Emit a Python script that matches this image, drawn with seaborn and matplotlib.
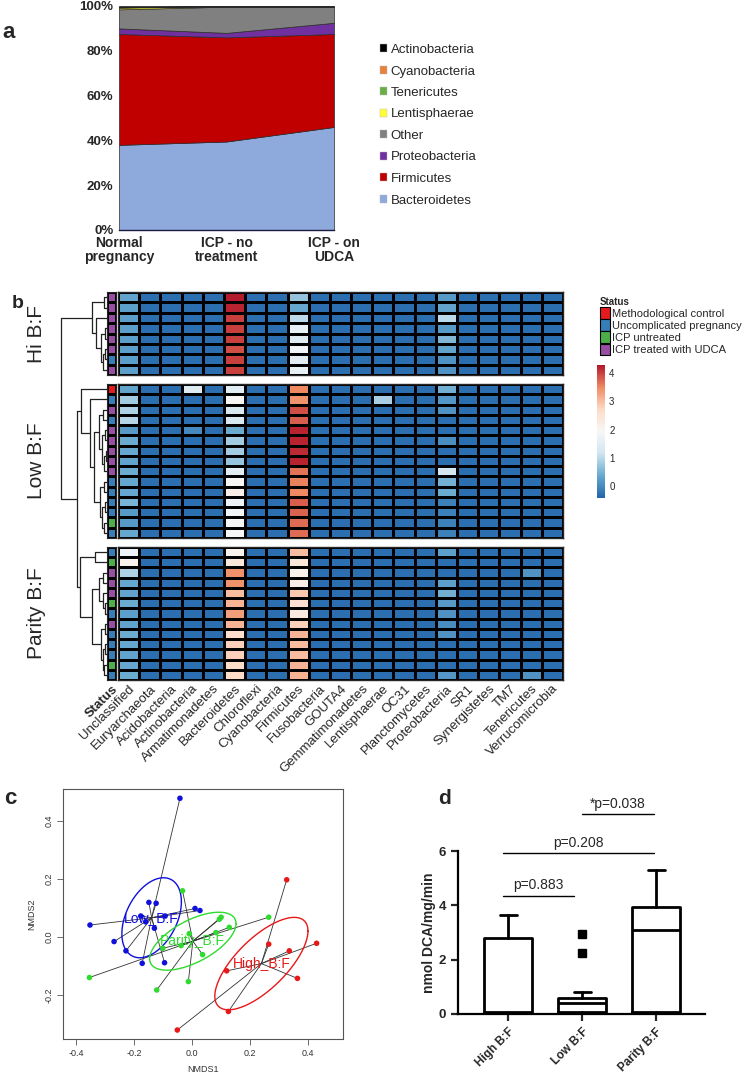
import numpy as np
import pandas as pd
import matplotlib
matplotlib.use("Agg")
import matplotlib.pyplot as plt
import seaborn as sns
from matplotlib.colors import ListedColormap, LinearSegmentedColormap
from matplotlib.patches import Patch

# ---------------- panel a: relative abundance (%)
groups_a = ["Normal\npregnancy", "ICP - no\ntreatment", "ICP - on\nUDCA"]
bacteroidetes_a = [38.0, 39.5, 46.0]
firmicutes_a = [49.5, 46.5, 41.5]
proteobacteria_a = [2.5, 2.0, 5.0]
other_a = [8.5, 11.7, 7.0]
lentisphaerae_a = [0.8, 0.1, 0.1]
tenericutes_a = [0.1, 0.05, 0.1]
cyanobacteria_a = [0.1, 0.05, 0.05]
actinobacteria_a = [0.5, 0.1, 0.25]
names_a = ["Bacteroidetes", "Firmicutes", "Proteobacteria", "Other",
           "Lentisphaerae", "Tenericutes", "Cyanobacteria", "Actinobacteria"]
colors_a = ["#8EA9DB", "#C00000", "#7030A0", "#808080",
            "#FFFF33", "#6BAE45", "#E8803F", "#000000"]

# ---------------- panel b: heatmap
phyla_b = ["Unclassified", "Euryarchaeota", "Acidobacteria", "Actinobacteria",
           "Armatimonadetes", "Bacteroidetes", "Chloroflexi", "Cyanobacteria",
           "Firmicutes", "Fusobacteria", "GOUTA4", "Gemmatimonadetes",
           "Lentisphaerae", "OC31", "Planctomycetes", "Proteobacteria", "SR1",
           "Synergistetes", "TM7", "Tenericutes", "Verrucomicrobia"]
base_value = -0.3  # colour of most cells = bottom of the scale

status_names = ["Methodological control", "Uncomplicated pregnancy",
                "ICP untreated", "ICP treated with UDCA"]
status_colors = ["#E41A1C", "#377EB8", "#4DAF4A", "#984EA3"]

hi_status = [3, 3, 3, 3, 3, 3, 1, 3]
low_status = [0, 1, 3, 1, 3, 3, 3, 3, 3, 1, 1, 1, 1, 2, 1]
parity_status = [1, 2, 3, 3, 3, 2, 1, 3, 1, 1, 1, 2, 1]

hi_values = {
    "Unclassified": [0.3, 0.25, 0.25, 0.25, 0.25, 0.25, 0.25, 0.25],
    "Bacteroidetes": [4.25, 4.2, 4.0, 4.0, 4.0, 3.9, 4.0, 4.0],
    "Firmicutes": [0.7, 0.35, 1.0, 1.6, 1.4, 1.8, 1.5, 1.6],
    "Proteobacteria": [0.2, 0.3, 1.0, 0.2, 0.55, 0.3, 0.1, 0.1],
}
low_values = {
    "Unclassified": [0.3, 0.8, 0.9, 0.95, 0.2, 0.4, 0.35, 0.3, 0.4, 0.35, 0.35, 0.5, 0.2, 0.2, 0.35],
    "Actinobacteria": [1.4, -0.3, -0.3, -0.3, 0.0, -0.3, -0.3, -0.3, -0.3, -0.3, -0.3, -0.3, -0.3, -0.3, -0.3],
    "Bacteroidetes": [1.5, 2.0, 1.3, 1.3, 0.4, 0.8, 0.8, 0.7, 1.5, 2.0, 2.2, 1.7, 1.8, 1.9, 1.9],
    "Firmicutes": [3.5, 3.4, 3.9, 3.8, 4.2, 4.2, 4.15, 4.2, 3.65, 3.55, 3.5, 3.8, 3.75, 3.7, 3.7],
    "Lentisphaerae": [-0.3, 0.85, -0.3, -0.3, -0.3, -0.3, -0.3, -0.3, -0.3, -0.3, -0.3, -0.3, -0.3, -0.3, -0.3],
    "Proteobacteria": [0.45, 0.15, 0.1, -0.3, -0.3, 0.05, -0.3, -0.3, 1.2, 0.45, 0.4, -0.1, -0.1, -0.1, -0.1],
}
parity_values = {
    "Unclassified": [1.7, 2.1, 0.9, 0.35, 0.3, 0.4, 0.25, 0.3, 0.4, 0.35, 0.3, 0.35, 0.4],
    "Bacteroidetes": [2.1, 2.4, 3.4, 3.4, 3.0, 3.1, 3.3, 3.1, 2.6, 2.8, 2.8, 2.7, 2.7],
    "Firmicutes": [3.0, 2.4, 2.1, 2.2, 2.9, 2.6, 2.3, 2.8, 3.1, 3.0, 3.0, 3.1, 3.1],
    "Proteobacteria": [0.25, -0.3, -0.3, 0.25, 0.45, 0.2, 0.1, 0.05, 0.1, -0.3, -0.3, -0.3, 0.15],
    "Tenericutes": [-0.3, -0.3, 0.1, -0.3, -0.3, -0.3, -0.3, -0.3, -0.3, -0.3, -0.3, -0.3, 0.1],
}

# dendrograms: (left, right, height), leaves are row indices inside the block
hi_tree = ((0, 1, 4), (2, ((3, 4, 3), ((5, 6, 3), 7, 5), 7), 12), 16)
low_tree = (0, (1, (((2, 3, 5), ((4, 5, 3), ((6, 7, 2), 8, 4), 6), 9),
                    ((9, 10, 4), ((11, 12, 3), (13, 14, 4), 6), 8), 14), 18), 27)
parity_tree = ((0, 1, 13), (((2, 3, 5), (4, (5, 6, 3), 5), 9),
                            ((7, 8, 3), ((9, 10, 3), (11, 12, 4), 5), 7), 16), 28)
low_parity_height = 31
root_height = 47

# ---------------- panel c: NMDS
low_x = [-0.042, -0.352, -0.269, -0.228, -0.172, -0.177, -0.149, -0.124, -0.160, -0.130, -0.095, -0.093, 0.010, 0.027]
low_y = [0.478, 0.041, -0.016, -0.048, -0.091, 0.072, 0.119, 0.116, 0.052, 0.030, -0.089, 0.072, 0.098, 0.091]
parity_x = [-0.354, -0.033, -0.010, -0.038, -0.013, -0.122, 0.036, 0.082, 0.094, 0.100, 0.128, 0.264, -0.101]
parity_y = [-0.140, 0.159, 0.011, -0.030, -0.154, -0.183, -0.061, 0.015, 0.061, 0.068, 0.033, 0.068, -0.039]
high_x = [0.326, -0.051, 0.125, 0.119, 0.264, 0.335, 0.363, 0.429]
high_y = [0.197, -0.321, -0.257, -0.117, -0.025, -0.048, -0.143, -0.022]
nmds_groups = ["Low_B:F", "Parity_B:F", "High_B:F"]
nmds_colors = ["#1010DD", "#2EDB2E", "#E81818"]

# ---------------- panel d: DCA production
d_groups = ["High B:F", "Low B:F", "Parity B:F"]
d_whislo = [0.02, 0.02, 0.03]
d_q1 = [0.05, 0.06, 0.06]
d_med = [0.06, 0.40, 3.08]
d_q3 = [2.78, 0.59, 3.93]
d_whishi = [3.66, 0.82, 5.31]
d_fliers = [[], [2.93, 2.23], []]
sig_x1 = [-0.07, -0.07, 1.0]
sig_x2 = [0.89, 1.97, 1.97]
sig_y = [4.36, 5.93, 7.36]
sig_text = ["p=0.883", "p=0.208", "*p=0.038"]

sns.set_style("white")
plt.rcParams["font.family"] = ["Liberation Sans", "DejaVu Sans"]

W, H = 745, 1077
fig = plt.figure(figsize=(W / 100, H / 100), dpi=100)


def px_axes(left, top, right, bottom):
    return fig.add_axes([left / W, 1 - bottom / H, (right - left) / W, (bottom - top) / H])


def panel_label(x, y, s, size):
    fig.text(x / W, 1 - y / H, s, fontsize=size, fontweight="bold", va="center", ha="left")


# ================= a
ax_a = px_axes(119, 6, 334, 230)
x_a = np.arange(len(groups_a))
series_a = [bacteroidetes_a, firmicutes_a, proteobacteria_a, other_a,
            lentisphaerae_a, tenericutes_a, cyanobacteria_a, actinobacteria_a]
ax_a.stackplot(x_a, *series_a, colors=colors_a, edgecolor="#2a2a2a", linewidth=0.5)
ax_a.set_xlim(0, 2)
ax_a.set_ylim(0, 100)
ax_a.set_yticks(range(0, 101, 20))
ax_a.set_yticklabels([f"{v}%" for v in range(0, 101, 20)], fontsize=9.5, fontweight="bold")
ax_a.set_xticks(x_a)
ax_a.set_xticklabels(groups_a, fontsize=10, fontweight="bold", linespacing=1.0)
ax_a.tick_params(length=0, pad=4)
for side in ["top", "right", "left"]:
    ax_a.spines[side].set_visible(False)
ax_a.spines["bottom"].set_color("#1a1a40")
ax_a.spines["bottom"].set_linewidth(1.0)
handles_a = [Patch(facecolor=c, edgecolor="#bbbbbb", linewidth=0.3, label=n)
             for n, c in zip(names_a, colors_a)][::-1]
ax_a.legend(handles=handles_a, loc="upper left", bbox_to_anchor=(380 / W, 1 - 44 / H),
            bbox_transform=fig.transFigure, frameon=False, fontsize=9.5,
            handlelength=0.55, handleheight=0.55, handletextpad=0.25,
            labelspacing=0.72, borderpad=0, borderaxespad=0)
panel_label(2, 33, "a", 16)

# ================= b
cmap_b = LinearSegmentedColormap.from_list(
    "rdbu7", ["#2166AC", "#67A9CF", "#D1E5F0", "#F7F7F7", "#FDDBC7", "#EF8A62", "#B2182B"])
vmin_b, vmax_b = -0.42, 4.28
blocks = [("Hi B:F", hi_values, hi_status, hi_tree, (292, 375)),
          ("Low B:F", low_values, low_status, low_tree, (384, 538)),
          ("Parity B:F", parity_values, parity_status, parity_tree, (547, 680))]
cax = px_axes(597, 365, 605, 498)

ax_den = px_axes(55, 292, 108, 680)
ax_den.set_ylim(680, 292)
ax_den.set_xlim(53, 0)
ax_den.axis("off")


def draw_link(a, b, h):
    (y1, h1), (y2, h2) = a, b
    ax_den.plot([h1, h, h, h2], [y1, y1, y2, y2], color="#222222", lw=0.9,
                solid_capstyle="butt")
    return (y1 + y2) / 2, h


def draw_tree(node, leaf_y):
    if isinstance(node, int):
        return leaf_y[node], 0.0
    left, right, h = node
    return draw_link(draw_tree(left, leaf_y), draw_tree(right, leaf_y), h)


tops = []
cbar = None
for i, (name, values, status, tree, (top, bottom)) in enumerate(blocks):
    n = len(status)
    df = pd.DataFrame(base_value, index=range(n), columns=phyla_b)
    for col, vals in values.items():
        df[col] = vals
    last = i == len(blocks) - 1
    ax = px_axes(118, top, 563, bottom)
    sns.heatmap(df, ax=ax, cmap=cmap_b, vmin=vmin_b, vmax=vmax_b,
                linewidths=0.8, linecolor="black",
                cbar=(i == 0), cbar_ax=cax if i == 0 else None,
                cbar_kws={"ticks": [0, 1, 2, 3, 4]} if i == 0 else None,
                xticklabels=last, yticklabels=False)
    if i == 0:
        cbar = ax.collections[0].colorbar
    for sp in ax.spines.values():
        sp.set_visible(True)
        sp.set_linewidth(1.0)
    ax.tick_params(length=0, pad=2)
    if last:
        ax.set_xticklabels(phyla_b, rotation=45, ha="right", rotation_mode="anchor",
                           fontsize=9.5)

    sax = px_axes(107, top, 116, bottom)
    sns.heatmap(pd.DataFrame({"Status": status}), ax=sax,
                cmap=ListedColormap(status_colors), vmin=-0.5, vmax=3.5,
                linewidths=0.8, linecolor="black", cbar=False,
                xticklabels=last, yticklabels=False)
    for sp in sax.spines.values():
        sp.set_visible(True)
        sp.set_linewidth(0.8)
    sax.tick_params(length=0, pad=2)
    if last:
        sax.set_xticklabels(["Status"], rotation=45, ha="right", rotation_mode="anchor",
                            fontsize=9.5, fontweight="bold")

    fig.text(36 / W, 1 - (top + bottom) / 2 / H, name, rotation=90, fontsize=15,
             ha="center", va="center")
    row_h = (bottom - top) / n
    leaf_y = [top + (k + 0.5) * row_h for k in range(n)]
    tops.append(draw_tree(tree, leaf_y))

lp = draw_link(tops[1], tops[2], low_parity_height)
draw_link(tops[0], lp, root_height)

cax.tick_params(labelsize=7, length=0, pad=3)
if cbar is not None:
    cbar.outline.set_visible(False)

handles_b = [Patch(facecolor=c, edgecolor="black", linewidth=0.8, label=n)
             for n, c in zip(status_names, status_colors)]
leg_b = fig.legend(handles=handles_b, title="Status", loc="upper left",
                   bbox_to_anchor=(594 / W, 1 - 291 / H), frameon=False, fontsize=8.0,
                   title_fontproperties={"weight": "bold", "size": 7},
                   handlelength=0.9, handleheight=1.2, labelspacing=0.06,
                   handletextpad=0.25, alignment="left", borderpad=0)
panel_label(12, 304, "b", 14)

# ================= c
ax_c = px_axes(63, 789, 343, 1039)
df_c = pd.DataFrame({
    "NMDS1": low_x + parity_x + high_x,
    "NMDS2": low_y + parity_y + high_y,
    "group": [nmds_groups[0]] * len(low_x) + [nmds_groups[1]] * len(parity_x)
             + [nmds_groups[2]] * len(high_x),
})
t = np.linspace(0, 2 * np.pi, 200)
for g, col in zip(nmds_groups, nmds_colors):
    sub = df_c[df_c["group"] == g]
    cx, cy = sub["NMDS1"].mean(), sub["NMDS2"].mean()
    for px, py in zip(sub["NMDS1"], sub["NMDS2"]):
        ax_c.plot([px, cx], [py, cy], color="#333333", lw=0.6, zorder=1)
    cov = np.cov(sub["NMDS1"], sub["NMDS2"])
    L = np.linalg.cholesky(cov)
    ell = L @ np.vstack([np.cos(t), np.sin(t)])
    ax_c.plot(ell[0] + cx, ell[1] + cy, color=col, lw=1.0, zorder=2)
    ax_c.text(cx, cy, g, color=col, fontsize=10, ha="center", va="center", zorder=4)
sns.scatterplot(data=df_c, x="NMDS1", y="NMDS2", hue="group", palette=nmds_colors,
                hue_order=nmds_groups, s=16, linewidth=0, legend=False, ax=ax_c, zorder=3)
ax_c.set_xlim(-0.445, 0.52)
ax_c.set_ylim(-0.352, 0.51)
ax_c.set_xticks([-0.4, -0.2, 0.0, 0.2, 0.4])
ax_c.set_xticklabels(["-0.4", "-0.2", "0.0", "0.2", "0.4"])
ax_c.set_yticks([-0.2, 0.0, 0.2, 0.4])
ax_c.set_yticklabels(["-0.2", "0.0", "0.2", "0.4"], rotation=90, va="center")
ax_c.tick_params(labelsize=6.5, labelcolor="#333333", length=4, width=0.6,
                 color="#555555", direction="out", bottom=True, left=True, pad=3)
ax_c.set_xlabel("NMDS1", fontsize=6.5, color="#333333", labelpad=5)
ax_c.set_ylabel("NMDS2", fontsize=6.5, color="#333333", labelpad=6)
for sp in ax_c.spines.values():
    sp.set_color("#555555")
    sp.set_linewidth(0.8)
panel_label(4, 799, "c", 16)

# ================= d
ax_d = px_axes(458, 851, 705, 1014)
stats = [dict(label=g, whislo=lo, q1=q1, med=m, q3=q3, whishi=hi, fliers=f)
         for g, lo, q1, m, q3, hi, f in zip(d_groups, d_whislo, d_q1, d_med, d_q3, d_whishi, d_fliers)]
lw_d = 2.0
ax_d.bxp(stats, positions=range(len(d_groups)), widths=0.65, capwidths=0.23,
         boxprops=dict(color="black", linewidth=lw_d),
         whiskerprops=dict(color="black", linewidth=lw_d),
         capprops=dict(color="black", linewidth=lw_d),
         medianprops=dict(color="black", linewidth=lw_d),
         flierprops=dict(marker="s", markerfacecolor="black", markeredgecolor="black",
                         markersize=6))
ax_d.set_xlim(-0.68, 2.66)
ax_d.set_ylim(0, 6)
ax_d.set_yticks([0, 2, 4, 6])
ax_d.set_yticklabels(["0", "2", "4", "6"], fontsize=9.5, fontweight="bold")
ax_d.set_xticks(range(len(d_groups)))
ax_d.set_xticklabels(d_groups, rotation=45, ha="right", rotation_mode="anchor",
                     fontsize=8.5, fontweight="bold")
ax_d.tick_params(axis="both", direction="out", length=5, width=1.6, bottom=True, left=True)
ax_d.set_ylabel("nmol DCA/mg/min", fontsize=10, fontweight="bold", labelpad=2)
for side in ["top", "right"]:
    ax_d.spines[side].set_visible(False)
for side in ["left", "bottom"]:
    ax_d.spines[side].set_linewidth(1.6)
    ax_d.spines[side].set_color("black")
for x1, x2, y, s in zip(sig_x1, sig_x2, sig_y, sig_text):
    ax_d.plot([x1, x2], [y, y], color="black", lw=1.0, clip_on=False)
    ax_d.text((x1 + x2) / 2, y + 0.12, s, ha="center", va="bottom", fontsize=10,
              clip_on=False)
panel_label(438, 798, "d", 15)

fig.savefig("out.png", dpi=100)
